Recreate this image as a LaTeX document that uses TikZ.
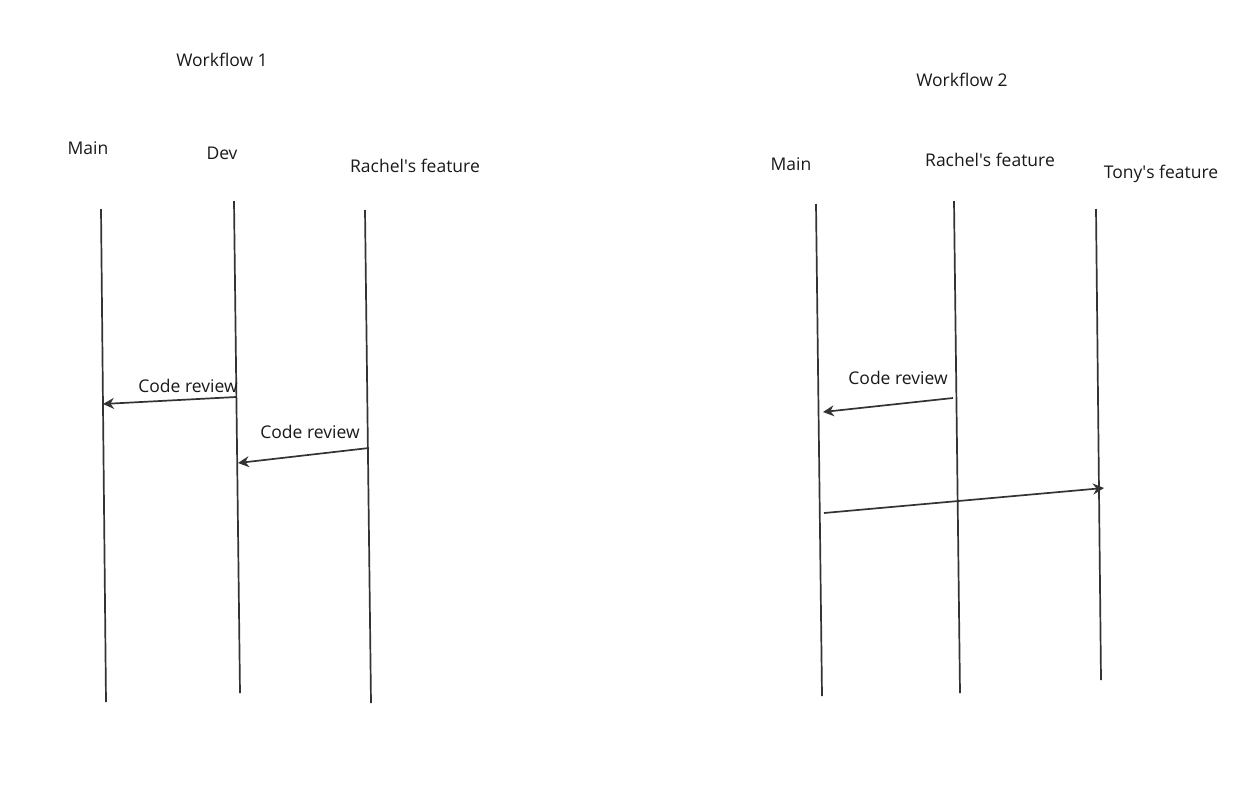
\documentclass[tikz,border=0pt]{standalone}
\usepackage{fontspec}
\setmainfont{Open Sans}
\usepackage{tikz}
\usetikzlibrary{arrows.meta,positioning}

\begin{document}
\begin{tikzpicture}[x=1pt,y=-1pt,
	  lane/.style={draw=black!80,line width=1.7pt},
	  msg/.style={draw=black!80,line width=1.7pt,-{Stealth[length=11pt,width=11pt]}},
	  lbl/.style={font=\fontsize{17.5}{20}\selectfont,text=black!90,inner sep=0pt}]
	  \useasboundingbox (0,0) rectangle (1252,798);
	  % Workflow 1
	  \node (wf1) [lbl] at (222,60) {Workflow 1};
	  \node (mainA) [lbl] at (88,148) {Main};
	  \node (dev) [lbl] at (222,153) {Dev};
	  \node (rachelA) [lbl] at (415,166) {Rachel\textquotesingle s feature};
	  \draw [lane] (101,209) coordinate (mainA_t) -- (106,702) coordinate (mainA_b);
	  \draw [lane] (234,201) coordinate (dev_t) -- (240,693) coordinate (dev_b);
	  \draw [lane] (365,210) coordinate (rachelA_t) -- (371,703) coordinate (rachelA_b);
	  % Merges between branches
	  \coordinate (d_1) at (236,397);
	  \coordinate (m_1) at (103,404);
	  \coordinate (r_1) at (369,448);
	  \coordinate (d_2) at (238,463);
	  \draw [msg] (d_1) -- (m_1);
	  \draw [msg] (r_1) -- (d_2);
	  \node (cr1) [lbl] at (188,386) {Code review};
	  \node (cr2) [lbl] at (310,432) {Code review};
	  % Workflow 2
	  \node (wf2) [lbl] at (962,80) {Workflow 2};
	  \node (mainB) [lbl] at (791,164) {Main};
	  \node (rachelB) [lbl] at (990,160) {Rachel\textquotesingle s feature};
	  \node (tony) [lbl] at (1161,174) {Tony\textquotesingle s feature};
	  \draw [lane] (816,204) coordinate (mainB_t) -- (822,696) coordinate (mainB_b);
	  \draw [lane] (954,201) coordinate (rachelB_t) -- (960,693) coordinate (rachelB_b);
	  \draw [lane] (1096,209) coordinate (tony_t) -- (1101,680) coordinate (tony_b);
	  % Merges between branches
	  \coordinate (r_3) at (953,398);
	  \coordinate (m_3) at (823,412);
	  \coordinate (m_4) at (824,513);
	  \coordinate (t_4) at (1104,488);
	  \draw [msg] (r_3) -- (m_3);
	  \draw [msg] (m_4) -- (t_4);
	  \node (cr3) [lbl] at (898,378) {Code review};
\end{tikzpicture}
\end{document}
